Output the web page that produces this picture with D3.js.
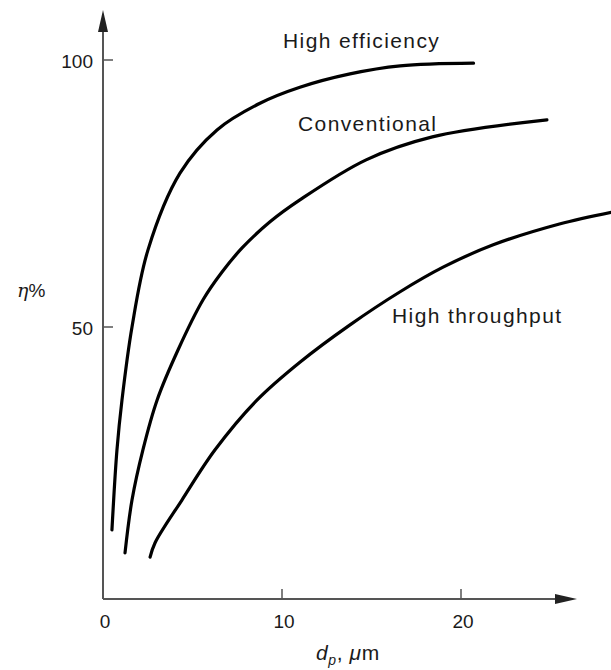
<!DOCTYPE html>
<html>
<head>
<meta charset="utf-8">
<script src="https://cdn.jsdelivr.net/npm/d3@7"></script>
<style>
    body { margin: 0; background: #fff; }
    svg text { font-family: "Liberation Sans", Arial, sans-serif; fill: #1a1a1a; }
</style>
</head>
<body>
<script>
// Curve data: particle size d_p (um) vs efficiency (%)
const highEfficiencyX = [0.5, 0.78, 1.06, 1.62, 2.51, 4.3, 6.37, 8.77, 11.0, 13.8, 16.6, 20.7];
const highEfficiencyY = [12.0, 27.0, 36.3, 50.0, 64.4, 78.8, 86.9, 91.9, 94.9, 97.4, 98.9, 99.4];

const conventionalX = [1.23, 1.62, 2.23, 3.02, 4.19, 5.59, 6.65, 7.77, 9.33, 11.0, 14.7, 18.4, 24.8];
const conventionalY = [7.7, 17.6, 27.0, 36.3, 45.7, 55.1, 60.3, 64.8, 69.7, 73.8, 81.3, 85.6, 88.8];

const highThroughputX = [2.63, 2.91, 4.41, 6.26, 8.6, 11.0, 13.8, 16.6, 19.0, 21.8, 25.5, 28.4];
const highThroughputY = [6.9, 9.6, 17.6, 27.0, 36.3, 43.4, 50.4, 56.6, 61.2, 65.4, 69.3, 71.5];

const curveNames = ['High efficiency', 'Conventional', 'High throughput'];
const xTicks = [0, 10, 20];
const yTicks = [50, 100];

// Function to zip x and y arrays into points
function toPoints(xs, ys) {
    return xs.map((x, i) => ({ x: x, y: ys[i] }));
}

const series = [
    { name: curveNames[0], points: toPoints(highEfficiencyX, highEfficiencyY) },
    { name: curveNames[1], points: toPoints(conventionalX, conventionalY) },
    { name: curveNames[2], points: toPoints(highThroughputX, highThroughputY) }
];

const width = 611, height = 670;

const x = d3.scaleLinear().domain([0, 20]).range([103, 461]);
const y = d3.scaleLinear().domain([0, 100]).range([594, 60]);

const axisY = 599;   // x axis sits a little below the zero line
const axisEndX = 577;
const axisTopY = 10;

const svg = d3.select('body').append('svg')
    .attr('width', width)
    .attr('height', height);

// Axes lines with arrow heads
const axisG = svg.append('g').attr('class', 'axes');

axisG.append('line')
    .attr('x1', x(0)).attr('y1', axisY)
    .attr('x2', axisEndX - 14).attr('y2', axisY)
    .style('stroke', '#555').style('stroke-width', 2);

axisG.append('line')
    .attr('x1', x(0)).attr('y1', axisY)
    .attr('x2', x(0)).attr('y2', axisTopY + 16)
    .style('stroke', '#555').style('stroke-width', 2);

axisG.append('path')
    .attr('d', `M${axisEndX},${axisY} L${axisEndX - 22},${axisY - 5} L${axisEndX - 22},${axisY + 5} Z`)
    .style('fill', '#222');

axisG.append('path')
    .attr('d', `M${x(0)},${axisTopY} L${x(0) - 5},${axisTopY + 22} L${x(0) + 5},${axisTopY + 22} Z`)
    .style('fill', '#222');

// Ticks (pointing inward)
axisG.selectAll('.xtick')
    .data(xTicks.filter(d => d !== 0))
    .enter().append('line')
    .attr('class', 'xtick')
    .attr('x1', d => x(d)).attr('x2', d => x(d))
    .attr('y1', axisY).attr('y2', axisY - 10)
    .style('stroke', '#555').style('stroke-width', 1.5);

axisG.selectAll('.ytick')
    .data(yTicks)
    .enter().append('line')
    .attr('class', 'ytick')
    .attr('x1', x(0)).attr('x2', x(0) + 10)
    .attr('y1', d => y(d)).attr('y2', d => y(d))
    .style('stroke', '#555').style('stroke-width', 1.5);

// Tick labels
axisG.selectAll('.xlabel')
    .data(xTicks)
    .enter().append('text')
    .attr('class', 'xlabel')
    .attr('x', d => x(d) + 2)
    .attr('y', 628)
    .attr('text-anchor', 'middle')
    .style('font-size', '19px')
    .text(d => d);

axisG.selectAll('.ylabel')
    .data(yTicks)
    .enter().append('text')
    .attr('class', 'ylabel')
    .attr('x', 93)
    .attr('y', d => y(d) + 8)
    .attr('text-anchor', 'end')
    .style('font-size', '19px')
    .text(d => d);

// Axis titles
const yTitle = svg.append('text')
    .attr('x', 17).attr('y', 297)
    .style('font-size', '19px');
yTitle.append('tspan').style('font-style', 'italic').style('font-family', '"DejaVu Serif", serif').text('η');
yTitle.append('tspan').text('%');

const xTitle = svg.append('text')
    .attr('x', 316).attr('y', 660)
    .style('font-size', '21px')
    .style('letter-spacing', '0.6px');
xTitle.append('tspan').style('font-style', 'italic').text('d');
xTitle.append('tspan').style('font-style', 'italic').style('font-size', '14px').attr('dy', 5).text('p');
xTitle.append('tspan').attr('dy', -5).text(', ');
xTitle.append('tspan').style('font-style', 'italic').text('μ');
xTitle.append('tspan').text('m');

// Curves
const line = d3.line()
    .x(d => x(d.x))
    .y(d => y(d.y))
    .curve(d3.curveCatmullRom.alpha(0.5));

svg.selectAll('.curve')
    .data(series)
    .enter().append('path')
    .attr('class', 'curve')
    .attr('d', d => line(d.points))
    .style('fill', 'none')
    .style('stroke', '#000')
    .style('stroke-width', 3.2)
    .style('stroke-linecap', 'round');

// Curve labels
const labelPos = [
    { x: 283, y: 48 },
    { x: 298, y: 131 },
    { x: 392, y: 323 }
];

svg.selectAll('.curve-label')
    .data(series)
    .enter().append('text')
    .attr('class', 'curve-label')
    .attr('x', (d, i) => labelPos[i].x)
    .attr('y', (d, i) => labelPos[i].y)
    .style('font-size', '21px')
    .style('letter-spacing', '1.4px')
    .text(d => d.name);
</script>
</body>
</html>
